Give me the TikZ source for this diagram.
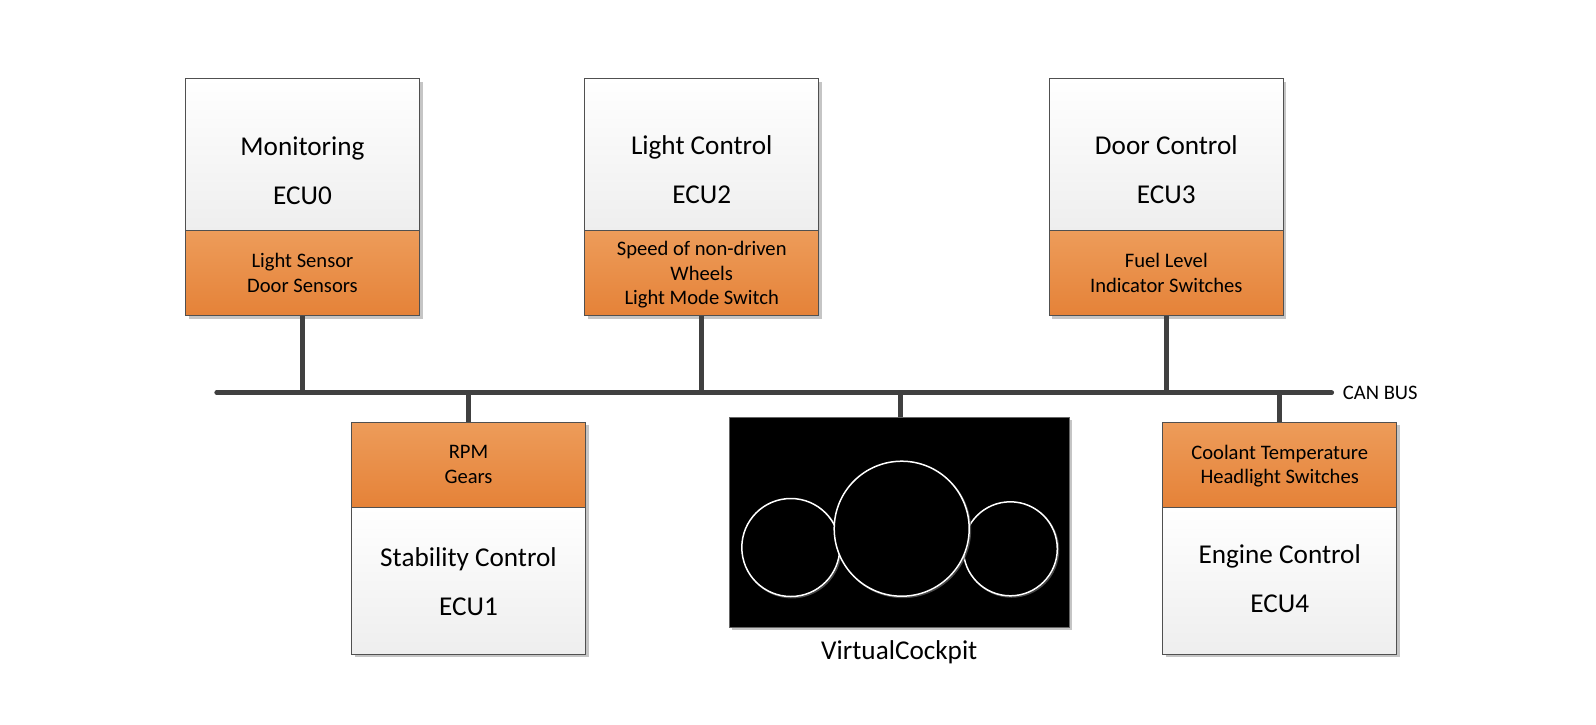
\documentclass[tikz,border=0pt]{standalone}
\usepackage{fontspec}
\setmainfont{Carlito}
\usetikzlibrary{positioning,shadows}
\definecolor{sigtop}{RGB}{237,156,90}
\definecolor{sigbot}{RGB}{229,130,56}
\definecolor{namebot}{RGB}{238,238,238}
\definecolor{boxline}{RGB}{80,80,80}
\definecolor{busline}{RGB}{64,64,64}
\begin{document}
\begin{tikzpicture}[x=1pt,y=-1pt]
  \tikzstyle{namebox}=[rectangle, draw=boxline, line width=1pt, outer sep=0pt, top color=white, bottom color=namebot, minimum width=234pt, minimum height=152pt, drop shadow={shadow xshift=3pt, shadow yshift=-3pt, fill=black!45, opacity=0.5}]
  \tikzstyle{sigbox}=[rectangle, draw=boxline, line width=1pt, outer sep=0pt, top color=sigtop, bottom color=sigbot, minimum width=234pt, minimum height=85pt, align=center, text depth=0pt, font=\fontsize{20.6}{24.5}\selectfont, drop shadow={shadow xshift=3pt, shadow yshift=-3pt, fill=black!45, opacity=0.5}]
  \tikzstyle{bigtext}=[align=center, font=\fontsize{27.2}{49}\selectfont]
  \tikzstyle{stem}=[line width=5pt, draw=busline]
  \tikzstyle{gauge}=[circle, draw=white, line width=1.5pt, fill=black, inner sep=0pt, drop shadow={shadow xshift=1.2pt, shadow yshift=-1.2pt, fill=none, draw=black!60, line width=1.5pt, opacity=0.7}]
  \useasboundingbox (0,0) rectangle (1596,724);
  \node[namebox] (ecu0) at (302.5,154.5) {};
  \node[sigbox, below=0pt of ecu0] (sig0) {Light Sensor\\Door Sensors};
  \node[bigtext] (txt0) at ([yshift=-16pt]ecu0.center) {Monitoring\\ECU0};
  \node[namebox] (ecu2) at (701.7,154.5) {};
  \node[sigbox, below=0pt of ecu2] (sig2) {Speed of non-driven\\Wheels\\Light Mode Switch};
  \node[bigtext] (txt2) at ([yshift=-15pt]ecu2.center) {Light Control\\ECU2};
  \node[namebox] (ecu3) at (1166.3,154.5) {};
  \node[sigbox, below=0pt of ecu3] (sig3) {Fuel Level\\Indicator Switches};
  \node[bigtext] (txt3) at ([yshift=-15pt]ecu3.center) {Door Control\\ECU3};
  \node[sigbox] (sig1) at (468.5,464.5) {RPM\\Gears};
  \node[namebox, minimum height=147pt, below=0pt of sig1] (ecu1) {};
  \node[bigtext] (txt1) at ([yshift=-1pt]ecu1.center) {Stability Control\\ECU1};
  \node[sigbox] (sig4) at (1279.7,464.5) {Coolant Temperature\\Headlight Switches};
  \node[namebox, minimum height=147pt, below=0pt of sig4] (ecu4) {};
  \node[bigtext] (txt4) at ([yshift=2pt]ecu4.center) {Engine Control\\ECU4};
  \node[rectangle, fill=black, draw=black!60, outer sep=0pt, minimum width=340pt, minimum height=210pt, drop shadow={shadow xshift=3pt, shadow yshift=-3pt, fill=black!45, opacity=0.5}] (cockpit) at (899.3,522.3) {};
  \node[gauge, minimum size=98pt] (gaugeL) at (790.8,547.5) {};
  \node[gauge, minimum size=94pt] (gaugeR) at (1010.3,548.8) {};
  \node[gauge, minimum size=135pt] (gaugeM) at (901.7,528.7) {};
  \node[bigtext, below=10pt of cockpit] (cocklabel) {VirtualCockpit};
  \coordinate (busL) at (216.7,392.7);
  \coordinate (busR) at (1331.7,392.7);
  \draw[stem] (sig0.south) -- (sig0.south |- busL);
  \draw[stem] (sig2.south) -- (sig2.south |- busL);
  \draw[stem] (sig3.south) -- (sig3.south |- busL);
  \draw[stem] (sig1.north) -- (sig1.north |- busL);
  \draw[stem] (sig4.north) -- (sig4.north |- busL);
  \draw[stem] ([xshift=0.7pt]cockpit.north) -- ([xshift=0.7pt]cockpit.north |- busL);
  \draw[stem, line width=4.7pt, line cap=round] (busL) -- (busR);
  \node[font=\fontsize{20.6}{24.5}\selectfont, inner sep=0pt, right=11pt of busR] (canbus) {CAN BUS};
\end{tikzpicture}
\end{document}
